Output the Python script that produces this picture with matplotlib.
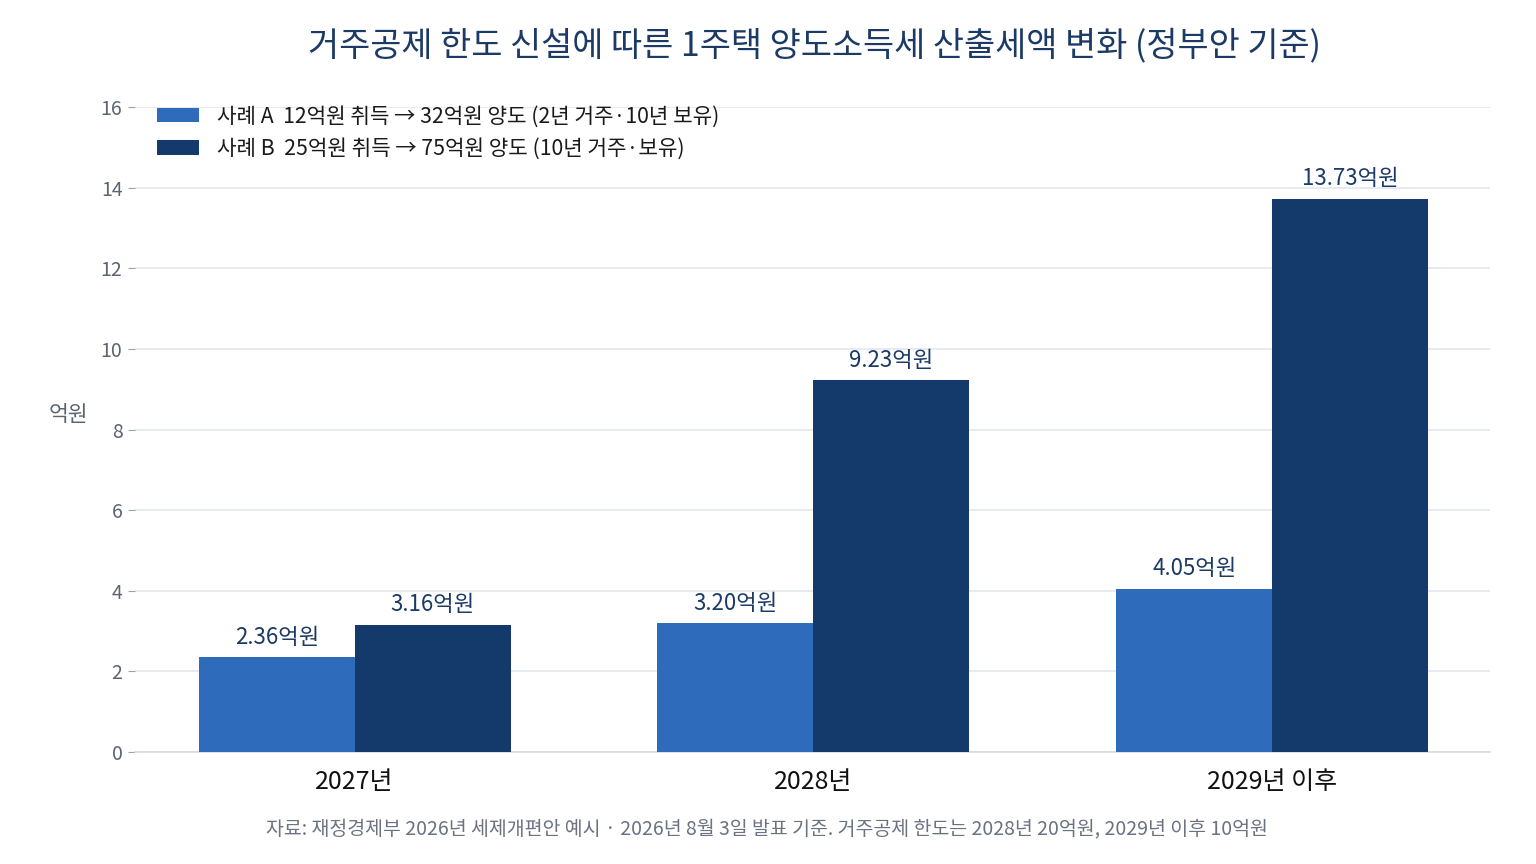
import matplotlib
matplotlib.use("Agg")
import matplotlib.pyplot as plt
import numpy as np

plt.rcParams['font.family'] = ['Noto Sans CJK KR', 'DejaVu Sans']

categories = ["2027년", "2028년", "2029년 이후"]
series_names = ["사례 A  12억원 취득 → 32억원 양도 (2년 거주·10년 보유)",
                "사례 B  25억원 취득 → 75억원 양도 (10년 거주·보유)"]
case_a = [2.36, 3.20, 4.05]
case_b = [3.16, 9.23, 13.73]
yticks = [0, 2, 4, 6, 8, 10, 12, 14, 16]

title = "거주공제 한도 신설에 따른 1주택 양도소득세 산출세액 변화 (정부안 기준)"
ylabel = "억원"
footer = "자료: 재정경제부 2026년 세제개편안 예시 · 2026년 8월 3일 발표 기준. 거주공제 한도는 2028년 20억원, 2029년 이후 10억원"

col_a = "#2E6BBA"
col_b = "#133A6B"
lab_col = "#1B3A66"

fig = plt.figure(figsize=(15.36, 8.64), dpi=100)
ax = fig.add_axes([135/1536, 1-752/864, (1490-135)/1536, (752-107)/864])

x = np.arange(len(categories))
w = 0.34
ba = ax.bar(x - w/2, case_a, w, color=col_a, label=series_names[0], zorder=3)
bb = ax.bar(x + w/2, case_b, w, color=col_b, label=series_names[1], zorder=3)

for bars, vals in ((ba, case_a), (bb, case_b)):
    for r, v in zip(bars, vals):
        ax.annotate(f"{v:.2f}억원", (r.get_x() + r.get_width()/2, v),
                    xytext=(0, 6), textcoords="offset points",
                    ha="center", va="bottom", fontsize=16, color=lab_col)

ax.set_xlim(-0.479, 2.475)
ax.set_ylim(0, 16)
ax.set_yticks(yticks)
ax.set_yticklabels([str(t) for t in yticks])
ax.set_xticks(x)
ax.set_xticklabels(categories, fontsize=18, color="#111111")
ax.tick_params(axis="x", length=0, pad=12)
ax.tick_params(axis="y", length=5, color="#9AA3AF", labelsize=14, labelcolor="#5B6472", pad=4)
ax.grid(axis="y", color="#E3E7EF", linewidth=1.2, zorder=0)
for s in ["top", "right", "left"]:
    ax.spines[s].set_visible(False)
ax.spines["bottom"].set_color("#D5DAE3")
ax.spines["bottom"].set_linewidth(1.2)

fig.text(68/1536, 1-415/864, ylabel, ha="center", va="center", fontsize=15.5, color="#5B6472")

leg = ax.legend(loc="upper left", bbox_to_anchor=(0.002, 1.032), frameon=False,
                fontsize=15.3, handlelength=2.0, handleheight=0.7, labelspacing=0.5,
                handletextpad=0.85)
for t in leg.get_texts():
    t.set_color("#1a1a1a")

fig.text(814/1536, 1-46/864, title, ha="center", va="center", fontsize=24.4, color="#1B3A66")
fig.text(767/1536, 1-830/864, footer, ha="center", va="center", fontsize=14, color="#6B7280")

fig.savefig("out.png", dpi=100)
